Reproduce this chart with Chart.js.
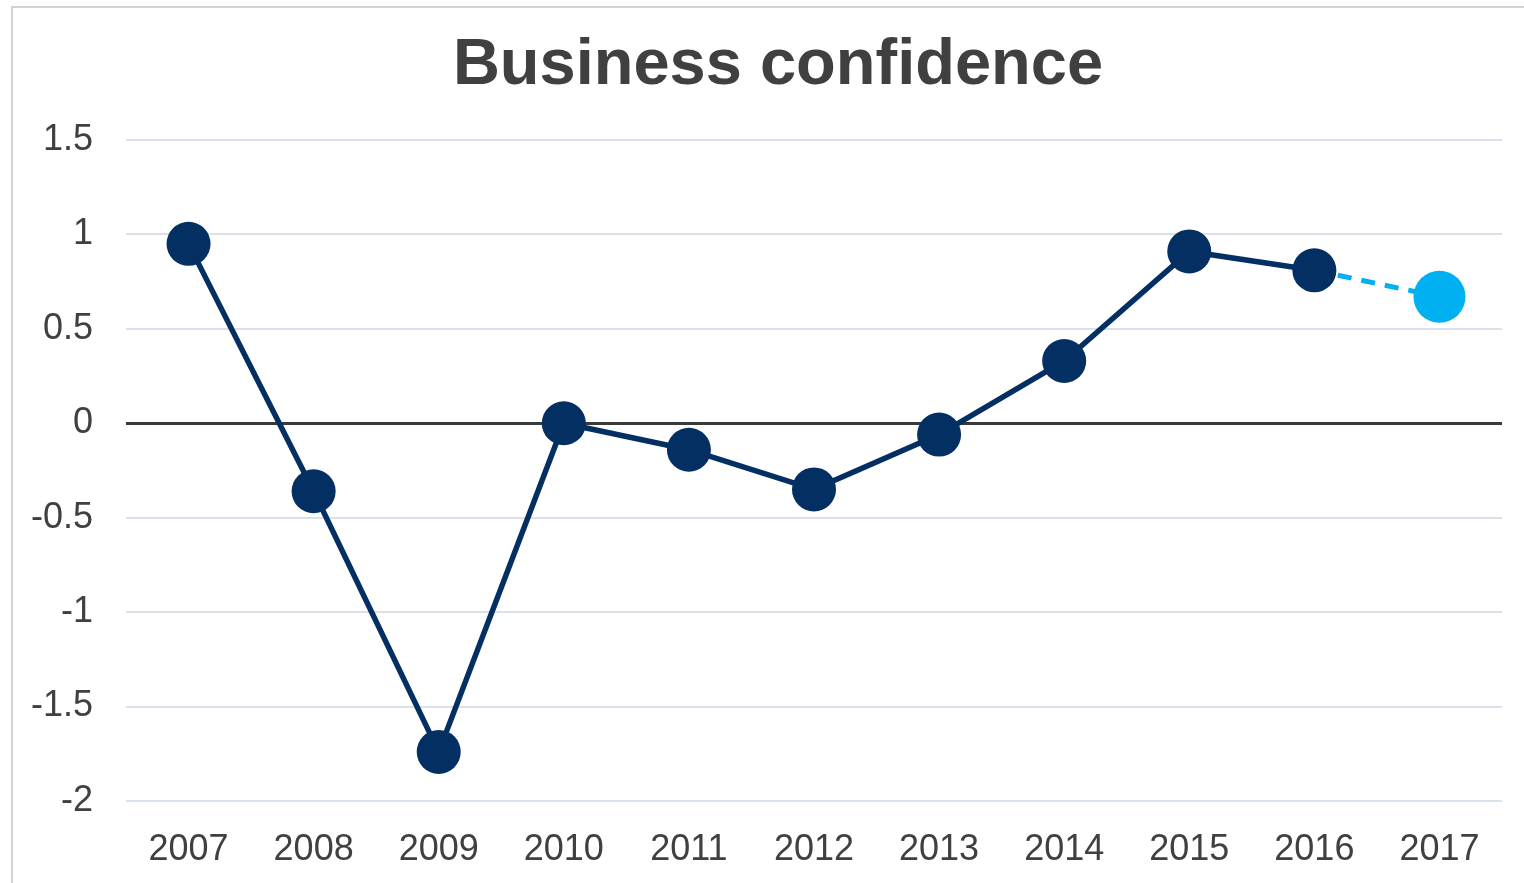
<!DOCTYPE html>
<html><head><meta charset="utf-8">
<script src="https://cdn.jsdelivr.net/npm/chart.js@4"></script>
<style>
html,body{margin:0;padding:0;background:#fff;overflow:hidden}
#wrap{position:relative;width:1524px;height:883px;overflow:hidden}
#frame{position:absolute;left:11px;top:6px;width:1600px;height:1000px;border:2px solid #d2d2d2;box-sizing:border-box}
canvas{position:absolute;left:0;top:0}
</style></head><body>
<div id="wrap"><div id="frame"></div><canvas id="c" width="1528" height="883"></canvas></div>
<script>
const titleText = 'Business confidence';
const years = ['2007','2008','2009','2010','2011','2012','2013','2014','2015','2016','2017'];
const actual = [0.95,-0.36,-1.74,0.0,-0.14,-0.35,-0.06,0.33,0.91,0.81,null];
const forecast = [null,null,null,null,null,null,null,null,null,0.81,0.67];
const forecastRadius = [0,0,0,0,0,0,0,0,0,0,26];
const yTickValues = [-2,-1.5,-1,-0.5,0,0.5,1,1.5];
const yTickLabels = ['-2','-1.5','-1','-0.5','0','0.5','1','1.5'];

const font = "'Liberation Sans', Arial, sans-serif";
const titlePlugin = {
  id:'customTitle',
  afterDraw(chart){
    const ctx = chart.ctx;
    ctx.save();
    ctx.font = "bold 65px " + font;
    ctx.fillStyle = '#404040';
    ctx.textAlign = 'center';
    ctx.textBaseline = 'middle';
    ctx.fillText(titleText, 778, 66);
    ctx.restore();
  }
};
new Chart(document.getElementById('c'), {
  type: 'line',
  data: {
    labels: years,
    datasets: [
      {data: actual, borderColor:'#032f62', backgroundColor:'#032f62', borderWidth:5.5,
       pointRadius:22, pointBackgroundColor:'#032f62', pointBorderWidth:0, tension:0, spanGaps:false},
      {data: forecast, borderColor:'#00b0f0', backgroundColor:'#00b0f0', borderWidth:5, borderDash:[14,10],
       pointRadius:forecastRadius, pointBackgroundColor:'#00b0f0', pointBorderWidth:0, tension:0}
    ]
  },
  plugins:[titlePlugin],
  options: {
    responsive:false, animation:false, devicePixelRatio:1, events:[],
    layout:{padding:{left:0,right:22,top:140,bottom:0}},
    plugins:{ legend:{display:false}, tooltip:{enabled:false}, title:{display:false} },
    scales:{
      x:{
        offset:true,
        grid:{display:false, drawTicks:false},
        border:{display:false},
        ticks:{color:'#404040', font:{family:font, size:36}, padding:27, maxRotation:0, autoSkip:false},
        afterFit:(s)=>{s.height=82; s.paddingLeft=0; s.paddingRight=0;}
      },
      y:{
        min:-2, max:1.5,
        afterBuildTicks:(s)=>{s.ticks = yTickValues.map(v=>({value:v}));},
        grid:{drawTicks:false,
          lineWidth:(ctx)=> ctx.tick && ctx.tick.value===0 ? 3 : 2,
          color:(ctx)=> ctx.tick && ctx.tick.value===0 ? '#3a3a3a' : '#d9e1ea'},
        border:{display:false},
        ticks:{color:'#404040', font:{family:font, size:36}, padding:33,
          callback:(v)=>yTickLabels[yTickValues.indexOf(v)]},
        afterFit:(s)=>{s.width=126;}
      }
    }
  }
});
</script>
</body></html>
